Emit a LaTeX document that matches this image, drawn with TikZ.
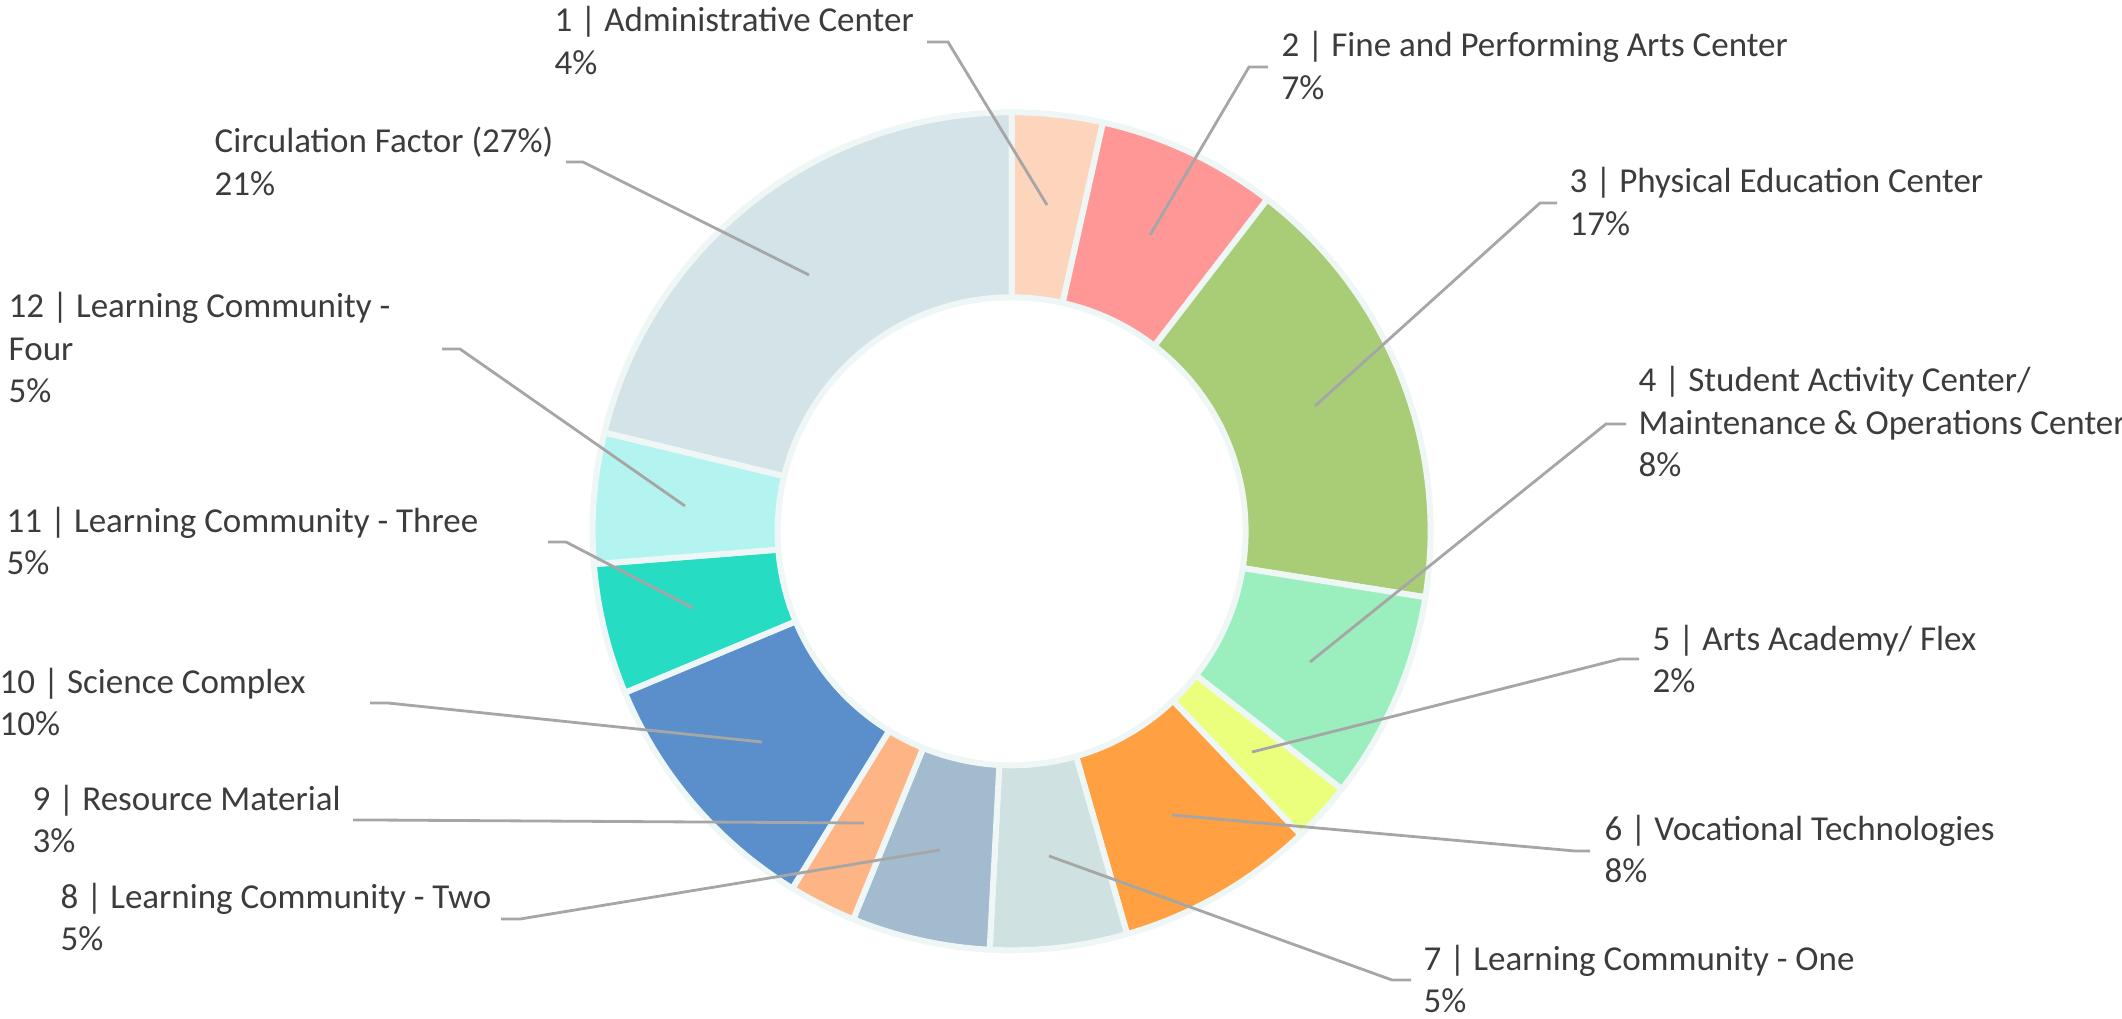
\documentclass[tikz,border=0pt]{standalone}
\usepackage{fontspec}
\setmainfont{Carlito}
\definecolor{txtgray}{HTML}{3C3C3C}
\definecolor{leadgray}{HTML}{A6A6A6}
\definecolor{rimc}{HTML}{EEF7F6}
\definecolor{c1}{HTML}{FDD4BC}
\definecolor{c2}{HTML}{FF9797}
\definecolor{c3}{HTML}{A9CC77}
\definecolor{c4}{HTML}{9BEFBF}
\definecolor{c5}{HTML}{EBFF7D}
\definecolor{c6}{HTML}{FFA042}
\definecolor{c7}{HTML}{CFE1E1}
\definecolor{c8}{HTML}{A3BBCF}
\definecolor{c9}{HTML}{FDB586}
\definecolor{c10}{HTML}{5B8FCB}
\definecolor{c11}{HTML}{26DCC2}
\definecolor{c12}{HTML}{B4F4F0}
\definecolor{c13}{HTML}{D4E3E8}
\newcommand\donutseg[3]{%
  \filldraw[segstyle, fill=#3] (#1:419) arc[start angle=#1, end angle=#2, radius=419]
    -- (#2:234) arc[start angle=#2, end angle=#1, radius=234] -- cycle;}
\newcommand\lbltext[2]{\begin{tabular}[t]{@{}l@{}}#1\\#2\end{tabular}}
\newcommand\lbltextiii[3]{\begin{tabular}[t]{@{}l@{}}#1\\#2\\#3\end{tabular}}
\tikzset{
  segstyle/.style={draw=rimc, line width=1.7pt, line join=round},
  lbl/.style={font=\fontsize{9.95}{11.95}\selectfont, text=txtgray, inner sep=0pt, anchor=base west},
  leader/.style={draw=leadgray, line width=0.8pt}
}
\begin{document}
\begin{tikzpicture}[x=0.01cm, y=-0.01cm]
\useasboundingbox (0,0) rectangle (2122,1019);
% donut
\begin{scope}[x=0.01cm, y=0.01cm, shift={(10.11cm,-5.31cm)}]
\donutseg{90}{77.4}{c1}
\donutseg{77.4}{52.4}{c2}
\donutseg{52.4}{-9.05}{c3}
\donutseg{-9.05}{-38}{c4}
\donutseg{-38}{-46.4}{c5}
\donutseg{-46.4}{-74}{c6}
\donutseg{-74}{-93}{c7}
\donutseg{-93}{-112.2}{c8}
\donutseg{-112.2}{-121.55}{c9}
\donutseg{-121.55}{-157.35}{c10}
\donutseg{-157.35}{-175.5}{c11}
\donutseg{-175.5}{-193.65}{c12}
\donutseg{-193.65}{-270}{c13}
\end{scope}
% labels
\node[lbl] (l1) at (554,32) {\lbltext{1 | Administrative Center}{4\%}};
\node[lbl] (l2) at (1281,57) {\lbltext{2 | Fine and Performing Arts Center}{7\%}};
\node[lbl] (l3) at (1569,193) {\lbltext{3 | Physical Education Center}{17\%}};
\node[lbl] (l4) at (1638,392) {\lbltextiii{4 | Student Activity Center/}{Maintenance \& Operations Center}{8\%}};
\node[lbl] (l5) at (1652,650) {\lbltext{5 | Arts Academy/ Flex}{2\%}};
\node[lbl] (l6) at (1604,840) {\lbltext{6 | Vocational Technologies}{8\%}};
\node[lbl] (l7) at (1423,970) {\lbltext{7 | Learning Community - One}{5\%}};
\node[lbl] (l8) at (60,908) {\lbltext{8 | Learning Community - Two}{5\%}};
\node[lbl] (l9) at (32,810) {\lbltext{9 | Resource Material}{3\%}};
\node[lbl] (l10) at (-1,693) {\lbltext{10 | Science Complex}{10\%}};
\node[lbl] (l11) at (6,532) {\lbltext{11 | Learning Community - Three}{5\%}};
\node[lbl] (l12) at (8,318) {\lbltextiii{12 | Learning Community -}{Four}{5\%}};
\node[lbl] (l13) at (214,153) {\lbltext{Circulation Factor (27\%)}{21\%}};
% leader points
\coordinate (h1) at (927,42);   \coordinate (k1) at (948,42);   \coordinate (p1) at (1047,205);
\coordinate (h2) at (1268,67);  \coordinate (k2) at (1249,67);  \coordinate (p2) at (1150,235);
\coordinate (h3) at (1557,203); \coordinate (k3) at (1540,203); \coordinate (p3) at (1315,406);
\coordinate (h4) at (1626,424); \coordinate (k4) at (1606,424); \coordinate (p4) at (1310,662);
\coordinate (h5) at (1639,659); \coordinate (k5) at (1620,659); \coordinate (p5) at (1252,752);
\coordinate (h6) at (1590,851); \coordinate (k6) at (1575,851); \coordinate (p6) at (1172,815);
\coordinate (h7) at (1411,980); \coordinate (k7) at (1392,980); \coordinate (p7) at (1049,856);
\coordinate (h8) at (501,919);  \coordinate (k8) at (520,919);  \coordinate (p8) at (940,850);
\coordinate (h9) at (353,820);  \coordinate (k9) at (373,820);  \coordinate (p9) at (864,823);
\coordinate (h10) at (370,703); \coordinate (k10) at (388,703); \coordinate (p10) at (762,742);
\coordinate (h11) at (548,542); \coordinate (k11) at (566,542); \coordinate (p11) at (693,608);
\coordinate (h12) at (442,349); \coordinate (k12) at (460,349); \coordinate (p12) at (685,506);
\coordinate (h13) at (566,162); \coordinate (k13) at (583,162); \coordinate (p13) at (809,275);
\foreach \i in {1,...,13}{\draw[leader] (h\i) -- (k\i) -- (p\i);}
\end{tikzpicture}
\end{document}
